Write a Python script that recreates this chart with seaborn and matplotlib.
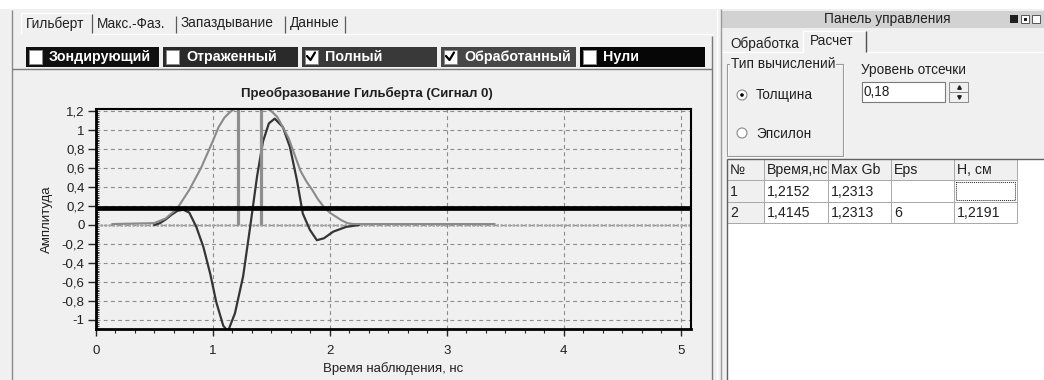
import numpy as np
import pandas as pd
import seaborn as sns
import matplotlib.pyplot as plt
from matplotlib.patches import Rectangle, Circle
from matplotlib.ticker import MultipleLocator, FuncFormatter

# Signal data (time in ns, amplitude)
full_time = [0.5, 0.55, 0.6, 0.65, 0.7, 0.75, 0.8, 0.86, 0.92, 0.98, 1.03, 1.09,
             1.13, 1.19, 1.26, 1.32, 1.38, 1.43, 1.48, 1.53, 1.6, 1.66, 1.72, 1.77,
             1.83, 1.89, 1.95, 2.03, 2.14, 2.25]
full_amp = [0.0, 0.02, 0.06, 0.11, 0.15, 0.16, 0.13, -0.02, -0.23, -0.52, -0.81, -1.06,
            -1.12, -0.93, -0.54, -0.02, 0.52, 0.88, 1.07, 1.12, 1.03, 0.82, 0.47, 0.12,
            -0.05, -0.16, -0.14, -0.07, -0.02, 0.0]
env_time = [0.14, 0.5, 0.6, 0.7, 0.8, 0.9, 1.0, 1.05, 1.1, 1.14, 1.17, 1.21, 1.3, 1.4,
            1.46, 1.5, 1.55, 1.6, 1.65, 1.7, 1.75, 1.8, 1.85, 1.9, 1.95, 2.0, 2.05, 2.1,
            2.15, 2.2, 3.41]
env_amp = [0.01, 0.02, 0.07, 0.18, 0.37, 0.6, 0.88, 1.03, 1.13, 1.18, 1.21, 1.23, 1.23, 1.23,
           1.23, 1.2, 1.14, 1.03, 0.91, 0.74, 0.57, 0.46, 0.37, 0.27, 0.19, 0.13, 0.09, 0.05,
           0.02, 0.01, 0.01]
zero_time = [0.0, 5.085]
zero_amp = [0.0, 0.0]
pick_times = [1.2152, 1.4145]
cutoff = 0.18

# GUI texts
left_tabs = ['Гильберт', 'Макс.-Фаз.', 'Запаздывание', 'Данные']
series_names = ['Зондирующий', 'Отраженный', 'Полный', 'Обработанный', 'Нули']
series_checked = [False, False, True, True, False]
table_header = ['№', 'Время,нс', 'Max Gb', 'Eps', 'H, см']
table_rows = [['1', '1,2152', '1,2313', '', ''],
              ['2', '1,4145', '1,2313', '6', '1,2191']]

BG = '#f0f0f0'
SANS = ['Liberation Sans', 'DejaVu Sans']
INK = '#202020'

sns.set_style('white')
plt.rcParams['font.family'] = SANS

fig = plt.figure(figsize=(10.44, 3.8), dpi=100)
fig.patch.set_facecolor(BG)

# overlay in pixel coordinates for the window chrome
gui = fig.add_axes([0, 0, 1, 1], zorder=0)
gui.set_xlim(0, 1044)
gui.set_ylim(380, 0)
gui.axis('off')


def box(x0, y0, x1, y1, fc='none', ec='none', lw=0.75, ls='-'):
    p = Rectangle((x0, y0), x1 - x0, y1 - y0, facecolor=fc, edgecolor=ec,
                  linewidth=lw, linestyle=ls)
    gui.add_patch(p)
    return p


def hl(y, x0, x1, c, lw=0.75):
    gui.plot([x0, x1], [y, y], color=c, lw=lw, solid_capstyle='butt')


def vl(x, y0, y1, c, lw=0.75):
    gui.plot([x, x], [y0, y1], color=c, lw=lw, solid_capstyle='butt')


def txt(x, y, s, size=10, **kw):
    kw.setdefault('color', INK)
    return gui.text(x, y, s, fontsize=size, va='center', ha='left', **kw)


# white strip on top
box(0, 0, 1044, 8.5, fc='white')

# ---- left panel: tab control
vl(12, 10, 380, '#8a8a8a', 1)
hl(33.5, 92, 713, 'white', 1)
hl(13, 21, 92, 'white', 1)
vl(21, 13, 34, 'white', 1)
tab_edges = [21, 92, 176, 285, 345]
for i, name in enumerate(left_tabs):
    vl(tab_edges[i + 1], 14 if i == 0 else 16, 33, '#5a5a5a', 0.9)
    txt(tab_edges[i] + 4.5, 23.5, name, size=9.8)

# ---- checkbox bar
seg_x = [26, 163, 302, 441, 580, 705]
seg_c = ['#101010', '#2a2a2a', '#393939', '#474747', '#060606']
for i, name in enumerate(series_names):
    x0 = seg_x[i]
    x1 = seg_x[i + 1] - 4 if i < 4 else seg_x[i + 1]
    box(x0, 47, x1, 66.5, fc=seg_c[i])
    box(x0 + 2.5, 49.5, x0 + 15.5, 63.5, fc='white', ec='#8a8a8a', lw=0.7)
    if series_checked[i]:
        gui.plot([x0 + 5, x0 + 8.5, x0 + 13], [56, 60, 52.5], color='black', lw=1.6)
    txt(x0 + 23, 57, name, size=10.3, color='white', fontweight='bold')

# ---- chart panel frame
hl(69, 12, 712, '#7a7a7a', 1)
vl(712, 36, 380, '#7a7a7a', 1)

# ---- right panel
vl(717, 9, 380, 'white', 1)
vl(721, 9, 380, '#9a9a9a', 1)
box(722, 11, 1044, 28, fc='#d2d2d2')
gui.text(887, 19.5, 'Панель управления', fontsize=9.8, ha='center', va='center', color=INK)
box(1010, 15, 1018, 23, fc='#202020')
box(1021, 15, 1029, 23, fc='white', ec='#404040', lw=0.6)
box(1023.5, 17.5, 1026.5, 20.5, fc='#202020')
box(1032, 15, 1040, 23, fc='white', ec='#404040', lw=0.6)

hl(52, 722, 803, 'white', 1)
hl(52, 866, 1044, 'white', 1)
txt(730, 44, 'Обработка', size=9.8)
hl(31, 803, 866, 'white', 1)
vl(803, 31, 52, 'white', 1)
vl(866, 31, 52, '#505050', 1)
txt(810, 41, 'Расчет', size=9.8)

# group box
box(727.5, 64.5, 843.5, 156.5, ec='white', lw=0.8)
box(727, 64, 843, 156, ec='#9a9a9a', lw=0.8)
txt(731, 64, 'Тип вычислений', size=9.8, bbox=dict(fc=BG, ec='none', pad=0.5))
for yy, label, on in [(95, 'Толщина', True), (133, 'Эпсилон', False)]:
    gui.add_patch(Circle((742, yy), 5, fc='white', ec='#8a8a8a', lw=0.8))
    if on:
        gui.add_patch(Circle((742, yy), 1.8, fc='black', ec='none'))
    txt(756, yy + 0.5, label, size=9.8)

txt(861, 70, 'Уровень отсечки', size=9.8)
box(862, 82, 945, 102, fc='white', ec='#7a7a7a', lw=0.8)
txt(864, 92, '0,18', size=9.8)
box(949, 82, 968, 91.5, fc=BG, ec='#8a8a8a', lw=0.7)
box(949, 92, 968, 101.5, fc=BG, ec='#8a8a8a', lw=0.7)
gui.plot(958.5, 87, marker='^', ms=2.5, color=INK)
gui.plot(958.5, 97, marker='v', ms=2.5, color=INK)

# table
col_x = [727, 764, 828, 891, 954, 1017]
row_y = [159, 180, 202, 223]
box(727, 159, 1044, 380, fc='white')
vl(727, 159, 380, '#606060', 1)
hl(159, 727, 1044, '#606060', 1)
for r, row in enumerate([table_header] + table_rows):
    for c, val in enumerate(row):
        fixed = r == 0 or c == 0
        cell = box(col_x[c], row_y[r], col_x[c + 1], row_y[r + 1],
                   fc=BG if fixed else 'white', ec='#a8a8a8', lw=0.7)
        t = txt(col_x[c] + 3, (row_y[r] + row_y[r + 1]) / 2 + 0.5, val, size=10.2)
        t.set_clip_path(cell)
box(956, 182, 1015, 200, ec='#202020', lw=0.7, ls=(0, (1, 1)))

# ---- main chart
ax = fig.add_axes([95.7 / 1044, (380 - 329.3) / 380, 595 / 1044, 220 / 380], zorder=2)
ax.set_facecolor(BG)

zero_df = pd.DataFrame({'t': zero_time, 'a': zero_amp})
env_df = pd.DataFrame({'t': env_time, 'a': env_amp})
full_df = pd.DataFrame({'t': full_time, 'a': full_amp})

sns.lineplot(data=zero_df, x='t', y='a', ax=ax, color='#a6a6a6', lw=1.8,
             linestyle=(0, (1, 0.6)), estimator=None, sort=False)
sns.lineplot(data=full_df, x='t', y='a', ax=ax, color='#353535', lw=1.6,
             estimator=None, sort=False)
sns.lineplot(data=env_df, x='t', y='a', ax=ax, color='#8a8a8a', lw=1.5,
             estimator=None, sort=False)
ax.vlines(pick_times, 0, 1.3, color='#8e8e8e', lw=2.3)
ax.axhline(cutoff, color='black', lw=3.4)

ax.set_xlim(0, 5.085)
ax.set_ylim(-1.098, 1.218)
ax.xaxis.set_major_locator(MultipleLocator(1))
ax.xaxis.set_minor_locator(MultipleLocator(1 / 6))
ax.yaxis.set_major_locator(MultipleLocator(0.2))
ax.yaxis.set_minor_locator(MultipleLocator(0.02))


def comma(v, pos):
    v = round(v, 1)
    if v == 0:
        return '0'
    return f'{v:g}'.replace('.', ',')


ax.yaxis.set_major_formatter(FuncFormatter(comma))
ax.grid(True, which='major', color='#8c8c8c', lw=0.8, linestyle=(0, (3.5, 3)))
ax.set_axisbelow(True)

ax.tick_params(axis='x', which='major', length=5, width=1, pad=6, labelsize=9.5,
               direction='out', bottom=True, labelcolor=INK)
ax.tick_params(axis='x', which='minor', length=3, width=0.8, direction='out', bottom=True)
ax.tick_params(axis='y', which='major', length=6, width=1, pad=2, labelsize=9.5,
               direction='out', left=True, labelcolor=INK)
ax.tick_params(axis='y', which='minor', length=2, width=0.6, direction='in', left=True)
for side, s in ax.spines.items():
    s.set_visible(True)
    s.set_color('black')
    s.set_linewidth(2 if side in ('left', 'bottom') else 1.5)

ax.set_xlabel('Время наблюдения, нс', fontsize=9.5, labelpad=4, color=INK)
ax.set_ylabel('Амплитуда', fontsize=9.5, labelpad=6, color=INK)
ax.set_title('Преобразование Гильберта (Сигнал 0)', fontsize=9.5, fontweight='bold',
             x=(366.5 - 95.7) / 595, pad=9, color=INK)

fig.savefig('out.png', dpi=100, facecolor=fig.get_facecolor())
